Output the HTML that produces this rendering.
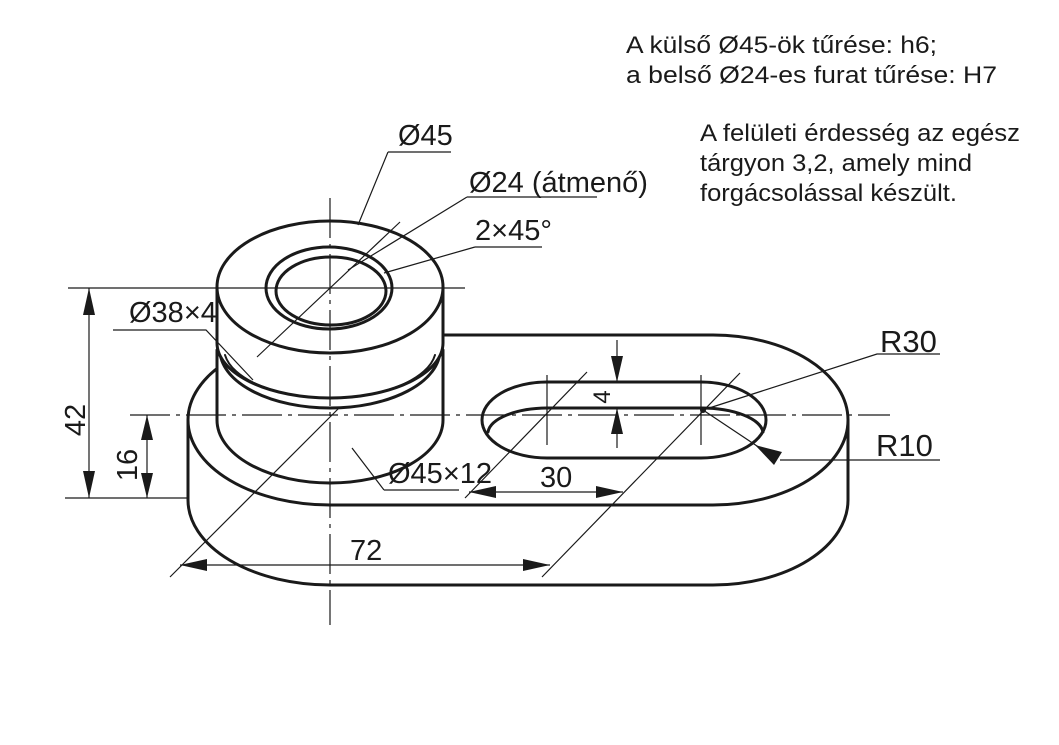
<!DOCTYPE html>
<html><head><meta charset="utf-8"><style>
html,body{margin:0;padding:0;background:#fff;}
svg{display:block;}
text{font-family:"Liberation Sans",sans-serif;fill:#1a1a1a;}
</style></head><body>
<svg width="1059" height="745" viewBox="0 0 1059 745" xmlns="http://www.w3.org/2000/svg">
<rect width="1059" height="745" fill="#fff"/>
<g font-size="24">
<text x="626" y="53" textLength="311" lengthAdjust="spacingAndGlyphs">A külső Ø45-ök tűrése: h6;</text>
<text x="626" y="83" textLength="371" lengthAdjust="spacingAndGlyphs">a belső Ø24-es furat tűrése: H7</text>
<text x="700" y="141" textLength="320" lengthAdjust="spacingAndGlyphs">A felületi érdesség az egész</text>
<text x="700" y="171" textLength="272" lengthAdjust="spacingAndGlyphs">tárgyon 3,2, amely mind</text>
<text x="700" y="201" textLength="257" lengthAdjust="spacingAndGlyphs">forgácsolással készült.</text>
</g>
<g stroke="#1a1a1a" fill="none" stroke-linejoin="round" stroke-linecap="round">
<path d="M188 420 A142 85 0 0 1 330 335 L713 335 A135 85 0 0 1 848 420 L848 500 A135 85 0 0 1 713 585 L330 585 A142 85 0 0 1 188 500 Z" fill="#fff" stroke-width="3"/>
<path d="M188 420 A142 85 0 0 0 330 505 L713 505 A135 85 0 0 0 848 420" stroke-width="3"/>
<path d="M547 382 L701 382 A65 38 0 0 1 701 458 L547 458 A65 38 0 0 1 547 382 Z" stroke-width="3"/>
<path d="M488 432 A60 26 0 0 1 547 408 L701 408 A62 26 0 0 1 763 432" stroke-width="3"/>
<path d="M217 350 L217 420 A113 63 0 0 0 443 420 L443 350 Z" fill="#fff" stroke="none"/>
<path d="M217 350 L217 420 A113 63 0 0 0 443 420 L443 350" stroke-width="3"/>
<path d="M220 350 A110 58 0 0 0 440 350" stroke-width="3"/>
<path d="M217 287 L217 343 A113 55 0 0 0 443 343 L443 287 Z" fill="#fff" stroke-width="3"/>
<path d="M225 355 A106 50 0 0 0 435 355" stroke-width="2"/>
<ellipse cx="330" cy="287" rx="113" ry="66" fill="#fff" stroke-width="3"/>
<ellipse cx="329" cy="288" rx="63" ry="41" stroke-width="3"/>
<ellipse cx="331" cy="291" rx="55" ry="34" stroke-width="3"/>
</g>
<g stroke="#1a1a1a" fill="none" stroke-width="1.2">
<path d="M330 198 V625" stroke-dasharray="40 6 4 6"/>
<path d="M68 288 H465"/>
<path d="M130 415 H890" stroke-dasharray="40 6 4 6"/>
<path d="M547 375 V445 M701 375 V445"/>
<path d="M65 498 H188 M89 288 V498 M147 415 V498"/>
<path d="M180 565 H550 M170 577 L340 407 M257 357 L400 222 M542 577 L740 373 M469 492 H623 M465 498 L587 372"/>
<path d="M617 340 V382 M617 408 V448"/>
<path d="M388 152 H451 M388 152 L358 225"/>
<path d="M467 197 H597 M467 197 L348 270"/>
<path d="M475 247 H542 M475 247 L384 273"/>
<path d="M113 330 H206 L253 380"/>
<path d="M384 490 H459 M384 490 L352 448"/>
<path d="M703 410 L877 354 H940"/>
<path d="M703 410 L760 448 M780 460 H940"/>
</g>
<g fill="#1a1a1a">
<polygon points="89,288 83,315 95,315"/>
<polygon points="89,498 83,471 95,471"/>
<polygon points="147,415 141,440 153,440"/>
<polygon points="147,498 141,473 153,473"/>
<polygon points="180,565 207,559 207,571"/>
<polygon points="550,565 523,559 523,571"/>
<polygon points="469,492 496,486 496,498"/>
<polygon points="623,492 596,486 596,498"/>
<polygon points="617,382 611,356 623,356"/>
<polygon points="617,408 611,434 623,434"/>
<polygon points="755,445 774,465 782,452"/>
<circle cx="703" cy="410" r="3"/>
</g>
<g font-size="29">
<text x="398" y="145">Ø45</text>
<text x="469" y="192">Ø24 (átmenő)</text>
<text x="475" y="240">2×45°</text>
<text x="129" y="322">Ø38×4</text>
<text x="388" y="483">Ø45×12</text>
<text x="540" y="487">30</text>
<text x="350" y="560">72</text>
<text x="880" y="352" font-size="31">R30</text>
<text x="876" y="456" font-size="31">R10</text>
<text transform="translate(85,420) rotate(-90)" text-anchor="middle">42</text>
<text transform="translate(137,465) rotate(-90)" text-anchor="middle">16</text>
<text transform="translate(610,397) rotate(-90)" text-anchor="middle" font-size="24">4</text>
</g>
</svg>
</body></html>
